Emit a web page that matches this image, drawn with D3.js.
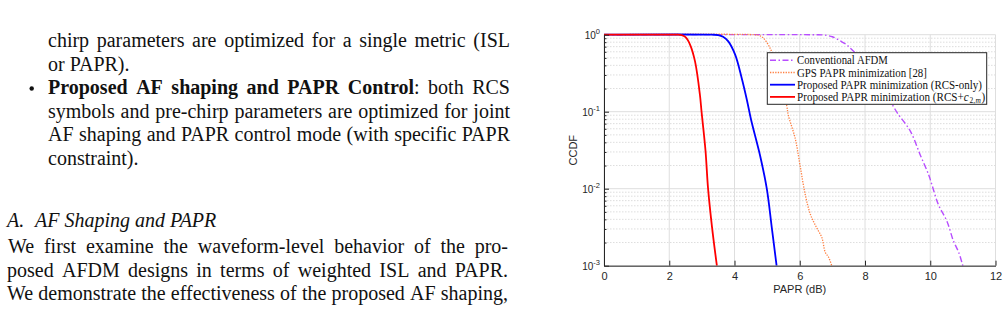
<!DOCTYPE html>
<html>
<head>
<meta charset="utf-8">
<script src="https://cdn.jsdelivr.net/npm/d3@7"></script>
<style>
body { margin: 0; background: #fff; }
svg { display: block; }
.body { font-family: "Liberation Serif", "Times New Roman", serif; font-size: 20px; fill: #111; }
.ax { font-family: "Liberation Sans", Arial, sans-serif; fill: #262626; }
.leg { font-family: "Liberation Serif", serif; font-size: 12px; fill: #111; }
</style>
</head>
<body>
<script>
// ---- chart data
var paprTicks = [0, 2, 4, 6, 8, 10, 12]
var ccdfDecades = [-3, -2, -1, 0]

var convX = [0, 6.4, 6.7, 7.0, 7.24, 7.44, 7.55, 7.7, 8.0, 8.3, 8.6, 8.87, 9.0, 9.39, 9.69, 9.95, 10.05, 10.25, 10.51, 10.71, 10.87, 10.97, 11.0]
var convY = [1, 1, 0.995, 0.94, 0.83, 0.74, 0.67, 0.58, 0.42, 0.28, 0.18, 0.117, 0.095, 0.056, 0.0276, 0.0152, 0.0113, 0.0062, 0.0038, 0.0021, 0.0015, 0.0011, 0.001]

var gpsX = [0, 4.6, 4.75, 4.89, 5.09, 5.2, 5.4, 5.6, 5.65, 5.86, 6.01, 6.17, 6.33, 6.52, 6.68, 6.78, 6.88, 6.98]
var gpsY = [1, 1, 0.98, 0.9, 0.67, 0.5, 0.25, 0.12, 0.09, 0.045, 0.02, 0.0083, 0.0046, 0.0031, 0.0023, 0.0015, 0.0013, 0.001]

var rcsX = [0, 3.3, 3.5, 3.65, 3.81, 4.02, 4.22, 4.38, 4.51, 4.78, 4.99, 5.14, 5.29]
var rcsY = [1, 1, 0.99, 0.94, 0.82, 0.55, 0.274, 0.142, 0.078, 0.0274, 0.01, 0.0032, 0.001]

var jointX = [0, 2.2, 2.38, 2.5, 2.64, 2.79, 2.94, 2.99, 3.11, 3.19, 3.31, 3.46]
var jointY = [1, 1, 0.99, 0.93, 0.74, 0.45, 0.166, 0.1, 0.0316, 0.01, 0.0032, 0.001]

var legendLabels = [
  [["Conventional AFDM"]],
  [["GPS PAPR minimization [28]"]],
  [["Proposed PAPR minimization (RCS-only)"]],
  [["Proposed PAPR minimization (RCS+"], ["c", "i"], ["2,", "sub"], ["m", "subi"], [")"]]
]
var legendWidths = [91, 130, 185, 186.5]

var series = [
  {x: convX, y: convY, color: "#b84dff", dash: "6,2.5,1.5,2.5", w: 1.4},
  {x: gpsX, y: gpsY, color: "#ff7f40", dash: "1.3,1.3", w: 1.3},
  {x: rcsX, y: rcsY, color: "#0000ff", dash: null, w: 1.8},
  {x: jointX, y: jointY, color: "#ff0000", dash: null, w: 1.8}
]

// ---- left column text
var bodyLines = [
  {x: 48, y: 47, w: 462, just: true, text: "chirp parameters are optimized for a single metric (ISL"},
  {x: 48, y: 70.5, just: false, text: "or PAPR)."},
  {x: 48, y: 94, w: 462, just: true, text: "**Proposed AF shaping and PAPR Control**: both RCS"},
  {x: 48, y: 117.5, w: 462, just: true, text: "symbols and pre-chirp parameters are optimized for joint"},
  {x: 48, y: 141, w: 462, just: true, text: "AF shaping and PAPR control mode (with specific PAPR"},
  {x: 48, y: 164.5, just: false, text: "constraint)."},
  {x: 8, y: 253, w: 500, just: true, text: "We first examine the waveform-level behavior of the pro-"},
  {x: 7, y: 276.5, w: 501, just: true, text: "posed AFDM designs in terms of weighted ISL and PAPR."},
  {x: 7, y: 300, w: 501, just: true, text: "We demonstrate the effectiveness of the proposed AF shaping,"}
]

var svg = d3.select("body").append("svg")
  .attr("width", 1006)
  .attr("height", 310)

function drawLine(d) {
  var bold = false
  var words = d.text.split(" ").map(function(w) {
    var t = svg.append("text").attr("class", "body").attr("y", d.y)
    w.split("**").forEach(function(p, i) {
      if (i > 0) bold = !bold
      if (p) t.append("tspan").attr("font-weight", bold ? "bold" : null).text(p)
    })
    return t
  })
  var widths = words.map(function(t) { return t.node().getComputedTextLength() })
  var gap = 5
  if (d.just) gap = (d.w - d3.sum(widths)) / (words.length - 1)
  var xx = d.x
  words.forEach(function(t, i) { t.attr("x", xx); xx += widths[i] + gap })
}
bodyLines.forEach(drawLine)

// bullet
svg.append("circle").attr("cx", 31.7).attr("cy", 88.5).attr("r", 2.2).attr("fill", "#111")

// section heading
svg.append("text").attr("class", "body").attr("x", 7).attr("y", 227)
  .style("font-style", "italic").text("A.")
svg.append("text").attr("class", "body").attr("x", 35).attr("y", 227)
  .style("font-style", "italic").text("AF Shaping and PAPR")

// ---- chart
var x = d3.scaleLinear().domain([0, 12]).range([604, 995.5])
var y = d3.scaleLog().domain([1e-3, 1]).range([265.7, 34.7])

var majors = ccdfDecades.map(function(k) { return Math.pow(10, k) })
var minors = []
ccdfDecades.slice(0, 3).forEach(function(k) {
  d3.range(2, 10).forEach(function(m) { minors.push(m * Math.pow(10, k)) })
})

var grid = svg.append("g")
grid.selectAll(".mn").data(minors).enter().append("line")
  .attr("x1", x(0)).attr("x2", x(12))
  .attr("y1", function(d) { return y(d) }).attr("y2", function(d) { return y(d) })
  .attr("stroke", "#d4d4d4").attr("stroke-width", 0.8).attr("stroke-dasharray", "1.5,1.5")
grid.selectAll(".mj").data(majors).enter().append("line")
  .attr("x1", x(0)).attr("x2", x(12))
  .attr("y1", function(d) { return y(d) }).attr("y2", function(d) { return y(d) })
  .attr("stroke", "#dedede").attr("stroke-width", 1)
grid.selectAll(".vx").data(paprTicks).enter().append("line")
  .attr("x1", function(d) { return x(d) }).attr("x2", function(d) { return x(d) })
  .attr("y1", y(1)).attr("y2", y(1e-3))
  .attr("stroke", "#dedede").attr("stroke-width", 1)

// curves
svg.append("clipPath").attr("id", "clip").append("rect")
  .attr("x", x(0)).attr("y", y(1) - 2).attr("width", x(12) - x(0)).attr("height", y(1e-3) - y(1) + 2)

var line = d3.line()
  .x(function(d) { return x(d[0]) })
  .y(function(d) { return y(d[1]) })
  .curve(d3.curveCatmullRom.alpha(0.5))

svg.append("g").attr("clip-path", "url(#clip)")
  .selectAll("path").data(series).enter().append("path")
  .attr("d", function(s) { return line(d3.zip(s.x, s.y)) })
  .attr("fill", "none")
  .attr("stroke", function(s) { return s.color })
  .attr("stroke-width", function(s) { return s.w })
  .attr("stroke-dasharray", function(s) { return s.dash })

// axes
var xAxis = svg.append("g").attr("class", "ax")
  .attr("transform", "translate(0," + y(1e-3) + ")")
  .call(d3.axisBottom(x).tickValues(paprTicks).tickSizeInner(-5).tickSizeOuter(0).tickPadding(7))
xAxis.selectAll("text").attr("font-size", 11).attr("fill", "#262626")

svg.append("g").attr("class", "ax")
  .attr("transform", "translate(" + x(0) + ",0)")
  .call(d3.axisLeft(y).tickValues(majors).tickSizeInner(-5).tickSizeOuter(0).tickFormat(""))
svg.append("g").attr("transform", "translate(" + x(0) + ",0)")
  .call(d3.axisLeft(y).tickValues(minors).tickSizeInner(-2.5).tickSizeOuter(0).tickFormat(""))
  .call(function(g) { g.select(".domain").remove() })

svg.selectAll(".domain").attr("stroke", "#262626")
svg.selectAll(".tick line").attr("stroke", "#262626")

var yl = svg.append("g").selectAll("text").data(ccdfDecades).enter().append("text")
  .attr("class", "ax").attr("font-size", 10)
  .attr("x", 600).attr("y", function(d) { return y(Math.pow(10, d)) + 4.5 })
  .attr("text-anchor", "end")
yl.append("tspan").text("10")
yl.append("tspan").attr("font-size", 7.5).attr("dy", -5).text(function(d) { return d })

svg.append("text").attr("class", "ax").attr("font-size", 11)
  .attr("x", (x(0) + x(12)) / 2).attr("y", 293).attr("text-anchor", "middle")
  .text("PAPR (dB)")
svg.append("text").attr("class", "ax").attr("font-size", 11)
  .attr("transform", "translate(576.5," + (y(1) + y(1e-3)) / 2 + ") rotate(-90)")
  .attr("text-anchor", "middle")
  .text("CCDF")

// legend
var leg = svg.append("g")
leg.append("rect").attr("x", 767.3).attr("y", 52.7).attr("width", 219.4).attr("height", 51.6)
  .attr("fill", "#fff").attr("stroke", "#262626").attr("stroke-width", 1)

var rows = leg.selectAll(".row").data(series).enter().append("g")
  .attr("transform", function(d, i) { return "translate(0," + (60.3 + i * 12.2) + ")" })
rows.append("line").attr("x1", 770).attr("x2", 795)
  .attr("stroke", function(s) { return s.color })
  .attr("stroke-width", function(s) { return s.w })
  .attr("stroke-dasharray", function(s) { return s.dash })
rows.append("text").attr("class", "leg").attr("x", 0).attr("y", 0)
  .each(function(d, i) {
    var t = d3.select(this)
    var shift = 0
    legendLabels[i].forEach(function(r) {
      var sp = t.append("tspan").text(r[0])
      var sub = r[1] == "sub" || r[1] == "subi"
      var want = sub ? 2.5 : 0
      if (want != shift) { sp.attr("dy", want - shift); shift = want }
      if (sub) sp.attr("font-size", 8)
      if (r[1] == "i" || r[1] == "subi") sp.style("font-style", "italic")
      if (r[1] == "sub") sp.attr("dx", 0.8)
      if (r[1] == "subi" || r[0] == ")") sp.attr("dx", 0.6)
    })
    var natural = this.getComputedTextLength()
    t.attr("transform", "translate(797,4) scale(" + (legendWidths[i] / natural) + ",1)")
  })
</script>
</body>
</html>
